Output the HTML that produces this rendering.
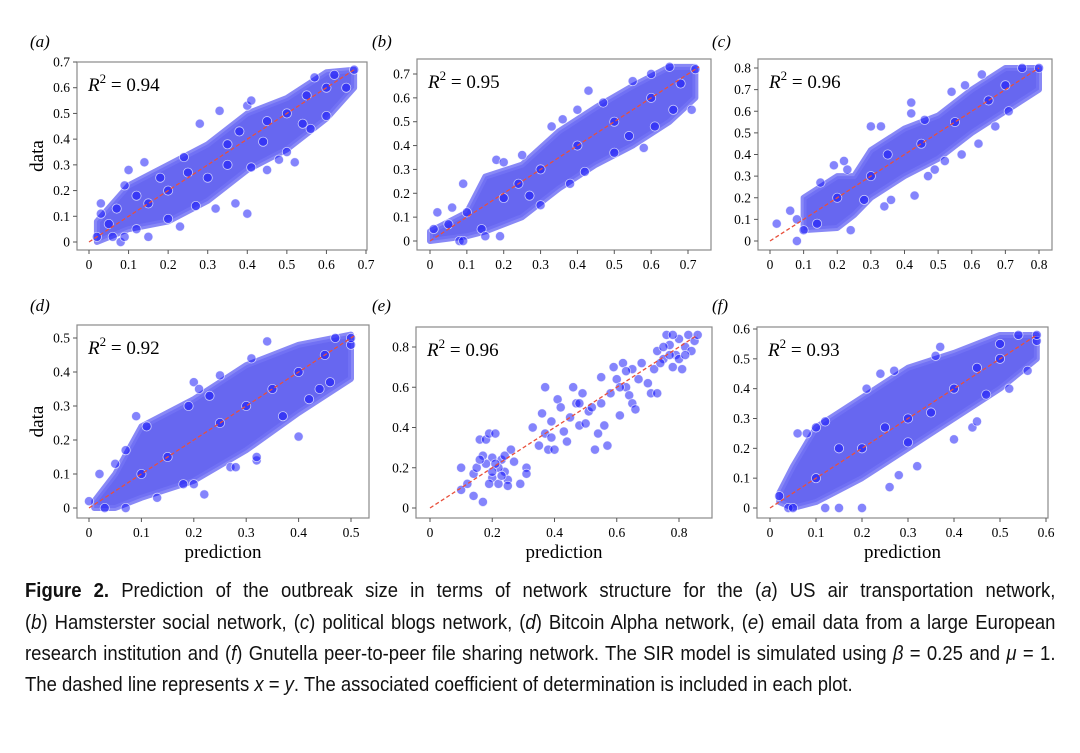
<!DOCTYPE html>
<html><head><meta charset="utf-8">
<style>
body{margin:0;background:#fff;width:1080px;height:753px;overflow:hidden;position:relative}
svg{position:absolute;left:0;top:0}
.cap{position:absolute;left:25px;font-family:"Liberation Sans",sans-serif;font-size:20px;color:#111;white-space:nowrap;transform-origin:0 0;transform:scaleX(0.925);line-height:24px}
.j{width:1114px;text-align:justify;text-align-last:justify}
</style></head><body>
<svg id="fig" width="1080" height="570" xmlns="http://www.w3.org/2000/svg"></svg>
<div class="cap j" style="top:579px"><b>Figure 2.</b> Prediction of the outbreak size in terms of network structure for the (<i>a</i>) US air transportation network,</div>
<div class="cap j" style="top:611px">(<i>b</i>) Hamsterster social network, (<i>c</i>) political blogs network, (<i>d</i>) Bitcoin Alpha network, (<i>e</i>) email data from a large European</div>
<div class="cap j" style="top:642px">research institution and (<i>f</i>) Gnutella peer-to-peer file sharing network. The SIR model is simulated using <i>β</i> = 0.25 and <i>μ</i> = 1.</div>
<div class="cap" style="top:673px">The dashed line represents <i>x</i> = <i>y</i>. The associated coefficient of determination is included in each plot.</div>
<script>
// Panel (a) data
const aBandX=[0.02,0.1,0.2,0.3,0.4,0.5,0.6,0.67];
const aBandLo=[0,0.05,0.08,0.16,0.28,0.36,0.48,0.6];
const aBandHi=[0.08,0.22,0.3,0.38,0.5,0.56,0.66,0.67];
const aX=[0.02,0.03,0.03,0.05,0.07,0.06,0.08,0.09,0.09,0.1,0.12,0.14,0.15,0.2,0.23,0.24,0.28,0.27,0.32,0.33,0.35,0.37,0.4,0.41,0.4,0.41,0.45,0.48,0.52,0.5,0.54,0.56,0.57,0.6,0.62,0.65,0.67,0.44,0.3,0.2,0.15,0.35,0.5,0.6,0.25,0.45,0.55,0.12,0.18,0.38];
const aY=[0.02,0.15,0.11,0.07,0.13,0.02,0.0,0.02,0.22,0.28,0.05,0.31,0.02,0.09,0.06,0.33,0.46,0.14,0.13,0.51,0.38,0.15,0.11,0.29,0.53,0.55,0.28,0.32,0.31,0.35,0.46,0.44,0.64,0.49,0.65,0.6,0.67,0.39,0.25,0.2,0.15,0.3,0.5,0.6,0.27,0.47,0.57,0.18,0.25,0.43];
// Panel (b)
const bBandX=[0,0.1,0.15,0.25,0.35,0.45,0.55,0.65,0.72];
const bBandLo=[0,0.02,0.04,0.1,0.22,0.32,0.4,0.5,0.6];
const bBandHi=[0.04,0.12,0.27,0.32,0.46,0.56,0.65,0.73,0.73];
const bX=[0.01,0.02,0.05,0.06,0.08,0.09,0.09,0.1,0.14,0.15,0.19,0.18,0.2,0.24,0.25,0.27,0.3,0.33,0.36,0.38,0.4,0.43,0.42,0.5,0.54,0.58,0.6,0.61,0.66,0.71,0.72,0.65,0.55,0.47,0.3,0.2,0.5,0.4,0.6,0.68];
const bY=[0.05,0.12,0.07,0.14,0.0,0.0,0.24,0.12,0.05,0.02,0.02,0.34,0.33,0.24,0.36,0.19,0.15,0.48,0.51,0.24,0.55,0.63,0.29,0.37,0.44,0.39,0.7,0.48,0.55,0.55,0.72,0.73,0.67,0.58,0.3,0.18,0.5,0.4,0.6,0.66];
// Panel (c)
const cBandX=[0.1,0.2,0.25,0.3,0.4,0.5,0.6,0.7,0.8];
const cBandLo=[0.05,0.06,0.12,0.2,0.3,0.38,0.5,0.6,0.7];
const cBandHi=[0.2,0.3,0.3,0.42,0.52,0.58,0.7,0.8,0.8];
const cX=[0.02,0.06,0.08,0.08,0.1,0.14,0.15,0.19,0.22,0.23,0.24,0.28,0.3,0.33,0.34,0.36,0.42,0.42,0.43,0.46,0.47,0.49,0.52,0.54,0.57,0.58,0.62,0.63,0.67,0.71,0.75,0.8,0.2,0.35,0.45,0.65,0.7,0.55,0.3];
const cY=[0.08,0.14,0.0,0.1,0.05,0.08,0.27,0.35,0.37,0.33,0.05,0.19,0.53,0.53,0.16,0.19,0.64,0.59,0.21,0.56,0.3,0.33,0.37,0.69,0.4,0.72,0.45,0.77,0.53,0.6,0.8,0.8,0.2,0.4,0.45,0.65,0.72,0.55,0.3];
// Panel (d)
const dBandX=[0.01,0.05,0.1,0.2,0.3,0.4,0.5];
const dBandLo=[0,0,0.03,0.08,0.17,0.28,0.38];
const dBandHi=[0.02,0.1,0.24,0.32,0.42,0.48,0.51];
const dX=[0.0,0.02,0.03,0.05,0.07,0.07,0.09,0.11,0.13,0.18,0.2,0.19,0.2,0.21,0.23,0.25,0.22,0.27,0.28,0.32,0.32,0.31,0.34,0.37,0.4,0.42,0.44,0.46,0.47,0.5,0.5,0.35,0.15,0.25,0.45,0.3,0.1,0.4];
const dY=[0.02,0.1,0.0,0.13,0.0,0.17,0.27,0.24,0.03,0.07,0.07,0.3,0.37,0.35,0.33,0.39,0.04,0.12,0.12,0.14,0.15,0.44,0.49,0.27,0.21,0.32,0.35,0.37,0.5,0.48,0.5,0.35,0.15,0.25,0.45,0.3,0.1,0.4];
// Panel (e)
const eBandX=[];const eBandLo=[];const eBandHi=[];
const eX=[0.1,0.1,0.12,0.14,0.14,0.15,0.16,0.17,0.18,0.19,0.2,0.21,0.18,0.2,0.22,0.23,0.24,0.25,0.26,0.25,0.27,0.29,0.31,0.31,0.19,0.17,0.22,0.24,0.33,0.35,0.36,0.37,0.37,0.38,0.39,0.39,0.4,0.41,0.42,0.43,0.44,0.45,0.46,0.47,0.48,0.49,0.5,0.51,0.53,0.54,0.55,0.55,0.56,0.57,0.58,0.59,0.6,0.61,0.62,0.63,0.64,0.65,0.66,0.65,0.67,0.68,0.7,0.71,0.72,0.73,0.73,0.75,0.76,0.77,0.78,0.79,0.8,0.81,0.82,0.83,0.84,0.85,0.86,0.75,0.78,0.8,0.74,0.77,0.82,0.61,0.63,0.48,0.52,0.21,0.23,0.2,0.16];
const eY=[0.2,0.09,0.12,0.06,0.17,0.2,0.34,0.03,0.34,0.37,0.25,0.37,0.22,0.15,0.12,0.24,0.18,0.14,0.29,0.11,0.23,0.12,0.2,0.17,0.12,0.26,0.2,0.26,0.4,0.31,0.47,0.6,0.37,0.29,0.43,0.35,0.29,0.54,0.5,0.38,0.33,0.45,0.6,0.52,0.41,0.57,0.42,0.48,0.29,0.37,0.52,0.65,0.41,0.31,0.57,0.7,0.64,0.46,0.72,0.6,0.56,0.52,0.49,0.69,0.64,0.72,0.62,0.57,0.69,0.57,0.78,0.74,0.86,0.81,0.7,0.76,0.84,0.69,0.8,0.86,0.78,0.83,0.86,0.8,0.86,0.74,0.72,0.76,0.76,0.6,0.68,0.52,0.5,0.22,0.16,0.18,0.24];
// Panel (f)
const fBandX=[0.02,0.05,0.1,0.2,0.3,0.4,0.5,0.58];
const fBandLo=[0.02,0,0.02,0.1,0.2,0.3,0.4,0.5];
const fBandHi=[0.05,0.14,0.27,0.37,0.47,0.52,0.58,0.58];
const fX=[0.02,0.04,0.05,0.06,0.08,0.1,0.12,0.12,0.15,0.2,0.21,0.24,0.26,0.28,0.27,0.3,0.32,0.37,0.36,0.4,0.44,0.45,0.47,0.5,0.52,0.54,0.56,0.58,0.58,0.3,0.4,0.2,0.1,0.5,0.15,0.35,0.45,0.25];
const fY=[0.04,0.0,0.0,0.25,0.25,0.27,0.29,0.0,0.0,0.0,0.4,0.45,0.07,0.11,0.46,0.22,0.14,0.54,0.51,0.23,0.27,0.29,0.38,0.55,0.4,0.58,0.46,0.56,0.58,0.3,0.4,0.2,0.1,0.5,0.2,0.32,0.47,0.27];
// Tick labels
const ticksA=[0,0.1,0.2,0.3,0.4,0.5,0.6,0.7];
const ticksC=[0,0.1,0.2,0.3,0.4,0.5,0.6,0.7,0.8];
const ticksD=[0,0.1,0.2,0.3,0.4,0.5];
const ticksE=[0,0.2,0.4,0.6,0.8];
const ticksF=[0,0.1,0.2,0.3,0.4,0.5,0.6];
const r2=["0.94","0.95","0.96","0.92","0.96","0.93"];
const letters=["a","b","c","d","e","f"];

const NS="http://www.w3.org/2000/svg";
const svg=document.getElementById('fig');
function mk(tag,attrs,parent){const e=document.createElementNS(NS,tag);for(const k in attrs)e.setAttribute(k,attrs[k]);(parent||svg).appendChild(e);return e;}
const panels=[
 {box:[77,62,367,250],x0:89,x1:366,xm:0.7,y0:242,y1:62,ym:0.7,xt:ticksA,yt:ticksA,bx:aBandX,lo:aBandLo,hi:aBandHi,X:aX,Y:aY,lx:30,ly:47,dmax:0.67,ylab:true,xlab:false},
 {box:[417,59,711,250],x0:430,x1:688,xm:0.7,y0:241,y1:74,ym:0.7,xt:ticksA,yt:ticksA,bx:bBandX,lo:bBandLo,hi:bBandHi,X:bX,Y:bY,lx:372,ly:47,dmax:0.73,ylab:false,xlab:false},
 {box:[758,59,1052,250],x0:770,x1:1039,xm:0.8,y0:241,y1:68,ym:0.8,xt:ticksC,yt:ticksC,bx:cBandX,lo:cBandLo,hi:cBandHi,X:cX,Y:cY,lx:712,ly:47,dmax:0.8,ylab:false,xlab:false},
 {box:[77,325,369,518],x0:89,x1:351,xm:0.5,y0:508,y1:338,ym:0.5,xt:ticksD,yt:ticksD,bx:dBandX,lo:dBandLo,hi:dBandHi,X:dX,Y:dY,lx:30,ly:311,dmax:0.51,ylab:true,xlab:true},
 {box:[416,327,712,518],x0:430,x1:679,xm:0.8,y0:508,y1:347,ym:0.8,xt:ticksE,yt:ticksE,bx:eBandX,lo:eBandLo,hi:eBandHi,X:eX,Y:eY,lx:372,ly:311,dmax:0.86,ylab:false,xlab:true},
 {box:[757,327,1048,518],x0:770,x1:1046,xm:0.6,y0:508,y1:329,ym:0.6,xt:ticksF,yt:ticksF,bx:fBandX,lo:fBandLo,hi:fBandHi,X:fX,Y:fY,lx:712,ly:311,dmax:0.58,ylab:false,xlab:true}
];
const serif='font-family:"Liberation Serif",serif';
panels.forEach((p,i)=>{
 const g=mk('g',{});
 
 
 const sx=v=>p.x0+v/p.xm*(p.x1-p.x0);
 const sy=v=>p.y0-v/p.ym*(p.y0-p.y1);
 const [l,t,r,b]=p.box;
 const lab=mk('text',{x:p.lx,y:p.ly,style:serif+';font-size:17px;font-style:italic'},g);
 lab.textContent='('+letters[i]+')';
 
 
 const frame=mk('rect',{x:l,y:t,width:r-l,height:b-t,fill:'#fff',stroke:'#8a8a8a','stroke-width':1.2},g);
 
 
 if(p.bx.length){
  let pts=[];
  p.bx.forEach((x,k)=>pts.push(sx(x)+','+sy(p.hi[k])));
  for(let k=p.bx.length-1;k>=0;k--)pts.push(sx(p.bx[k])+','+sy(p.lo[k]));
  const band=mk('polygon',{points:pts.join(' '),fill:'rgba(50,50,235,0.74)',stroke:'rgba(115,115,245,0.85)','stroke-width':6,'stroke-linejoin':'round'},g);
  
  
 }
 p.X.forEach((x,k)=>{
  const c=mk('circle',{cx:sx(x),cy:sy(p.Y[k]),r:4.6,fill:'rgba(10,10,250,0.5)',stroke:'rgba(255,255,255,0.7)','stroke-width':0.8},g);
  
  
 });
 const dl=mk('line',{x1:sx(0),y1:sy(0),x2:sx(p.dmax),y2:sy(p.dmax),stroke:'#e8503c','stroke-width':1.3,'stroke-dasharray':'4,2.5'},g);
 
 
 p.xt.forEach(v=>{
  mk('line',{x1:sx(v),x2:sx(v),y1:b,y2:b+4,stroke:'#555'},g);
  const tx=mk('text',{x:sx(v),y:b+19,'text-anchor':'middle',style:serif+';font-size:13.5px'},g);
  tx.textContent=v===0?'0':String(v);
  
  
 });
 p.yt.forEach(v=>{
  mk('line',{x1:l-4,x2:l,y1:sy(v),y2:sy(v),stroke:'#555'},g);
  const ty=mk('text',{x:l-7,y:sy(v)+4.5,'text-anchor':'end',style:serif+';font-size:13.5px'},g);
  ty.textContent=v===0?'0':String(v);
  
  
 });
 const rt=mk('text',{x:l+11,y:t+29,style:serif+';font-size:19px'},g);
 rt.innerHTML='<tspan font-style="italic">R</tspan><tspan dy="-8" font-size="13">2</tspan><tspan dy="8"> = '+r2[i]+'</tspan>';
 
 
 if(p.ylab){
  const cy=(t+b)/2;
  const yl=mk('text',{x:43,y:cy,transform:'rotate(-90 43 '+cy+')','text-anchor':'middle',style:serif+';font-size:19px'},g);
  yl.textContent='data';
  
  
 }
 if(p.xlab){
  const xl=mk('text',{x:(l+r)/2,y:558,'text-anchor':'middle',style:serif+';font-size:19px'},g);
  xl.textContent='prediction';
  
  
 }
});
</script>
</body></html>
